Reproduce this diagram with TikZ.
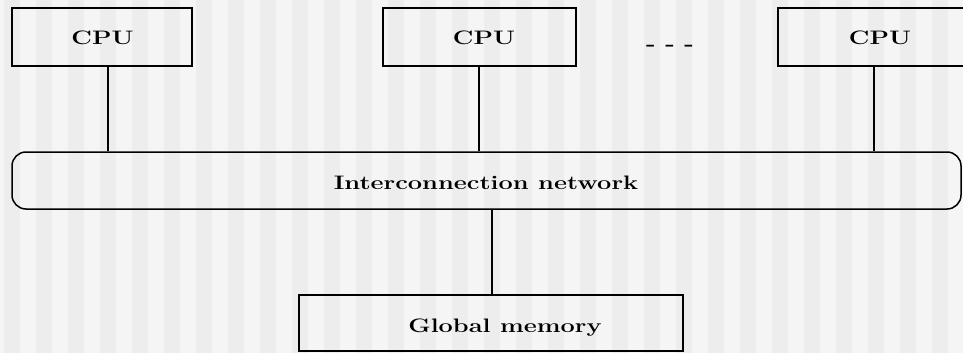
\documentclass[tikz,border=0pt]{standalone}
\usepackage{tikz}
\usepackage{xcolor}
\usepackage{graphicx}
\definecolor{stripelight}{RGB}{245,245,245}
\definecolor{stripedark}{RGB}{237,237,237}
\newcommand{\widetext}[1]{\scalebox{1.3}[1]{#1}}
\tikzset{
	unitbox/.style={draw,line width=1.5pt,inner sep=0pt},
	boxlabel/.style={font=\fontsize{19.5}{22}\selectfont\bfseries,inner sep=0pt,anchor=base},
	wire/.style={line width=1.3pt}
}

\begin{document}
\begin{tikzpicture}[x=1pt,y=-1pt]
				\useasboundingbox (0,0) rectangle (963,353);
				% Striped background
				\fill[stripelight] (0,0) rectangle (963,353);
				\foreach \i in {0,...,30} {
					\fill[stripedark] (4+32*\i,0) rectangle (20+32*\i,353);
				}
				
				% Processors
				\node[unitbox,minimum width=180pt,minimum height=58pt] (cpuA) at (102,37) {};
				\node[unitbox,minimum width=193pt,minimum height=58pt] (cpuB) at (479.5,37) {};
				\node[unitbox,minimum width=204pt,minimum height=58pt] (cpuC) at (880,37) {};
				\foreach \n/\x in {cpuAtext/102.5, cpuBtext/484, cpuCtext/880} {
					\node[boxlabel] (\n) at (\x,45) {\widetext{CPU}};
				}
				\node[boxlabel] (dots) at (670,51) {\widetext{- - -}};
				
				% Network
				\node[unitbox,rounded corners=14pt,minimum width=949pt,minimum height=57pt] (net) at (486.5,180.5) {};
				\node[boxlabel] (nettext) at (486,189) {\widetext{Interconnection network}};
				
				% Memory
				\node[unitbox,minimum width=384pt,minimum height=56pt] (mem) at (491,323) {};
				\node[boxlabel] (memtext) at (505,332) {\widetext{Global memory}};
				
				% Links
				\foreach \n/\s in {cpuA/6, cpuB/-0.5, cpuC/-6} {
					\draw[wire] ([xshift=\s pt]\n.south) -- ([xshift=\s pt]\n.south |- net.north);
				}
				\draw[wire] ([xshift=1pt]mem.north) -- ([xshift=1pt]mem.north |- net.south);
			\end{tikzpicture}
\end{document}
